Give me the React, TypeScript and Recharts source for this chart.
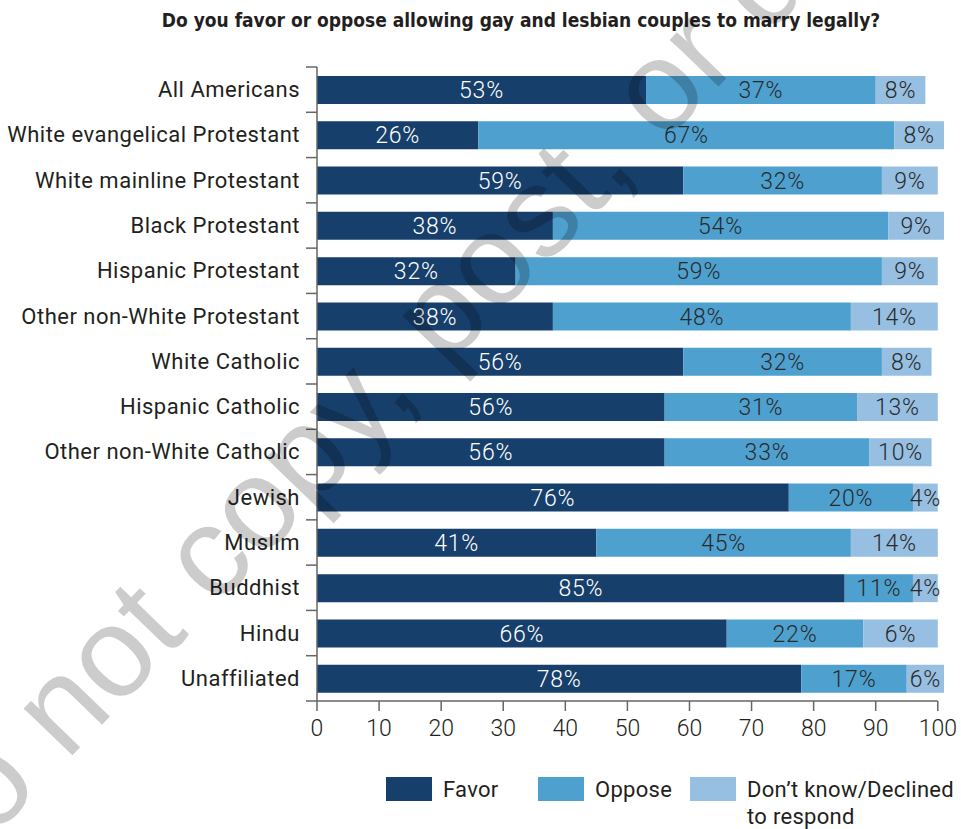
import React from 'react';
import { BarChart, Bar, XAxis, YAxis, LabelList, ReferenceLine } from 'recharts';

const categories = [
  'All Americans',
  'White evangelical Protestant',
  'White mainline Protestant',
  'Black Protestant',
  'Hispanic Protestant',
  'Other non-White Protestant',
  'White Catholic',
  'Hispanic Catholic',
  'Other non-White Catholic',
  'Jewish',
  'Muslim',
  'Buddhist',
  'Hindu',
  'Unaffiliated',
];

// bar lengths as drawn in the picture
const favor = [53, 26, 59, 38, 32, 38, 59, 56, 56, 76, 45, 85, 66, 78];
const oppose = [37, 67, 32, 54, 59, 48, 32, 31, 33, 20, 41, 11, 22, 17];
const dontKnow = [8, 8, 9, 9, 9, 14, 8, 13, 10, 4, 14, 4, 12, 6];

// percentages printed on the bars
const favorText = [53, 26, 59, 38, 32, 38, 56, 56, 56, 76, 41, 85, 66, 78];
const opposeText = [37, 67, 32, 54, 59, 48, 32, 31, 33, 20, 45, 11, 22, 17];
const dontKnowText = [8, 8, 9, 9, 9, 14, 8, 13, 10, 4, 14, 4, 6, 6];

const xTicks = [0, 10, 20, 30, 40, 50, 60, 70, 80, 90, 100];

const legendItems = [
  { name: ['Favor'], color: '#173f6b' },
  { name: ['Oppose'], color: '#4ea1cf' },
  { name: ['Don\u2019t know/Declined', 'to respond'], color: '#96bfe1' },
];

const title = 'Do you favor or oppose allowing gay and lesbian couples to marry legally?';
const watermark = 'Do not copy, post, or distribute';

const data = categories.map((name, i) => ({
  name,
  favor: favor[i],
  oppose: oppose[i],
  dontKnow: dontKnow[i],
  favorText: favorText[i],
  opposeText: opposeText[i],
  dontKnowText: dontKnowText[i],
}));

const FONT = 'Roboto, "Open Sans", sans-serif';
const TEXT = '#231f20';
const AXIS = '#666666';

const W = 961;
const H = 829;
const M = { top: 67, right: 17, left: 0, bottom: 88 };
const X_AXIS_H = 40;
const BAND = (H - M.top - M.bottom - X_AXIS_H) / categories.length;
const Y_MARGIN = 17;

const YTick = (props: any) => {
  const { x, y, payload, index } = props;
  const axisX = x + Y_MARGIN;
  const top = y - BAND / 2;
  return (
    <g>
      <text
        x={x}
        y={y}
        textAnchor="end"
        dominantBaseline="central"
        fontFamily={FONT}
        fontSize={22}
        letterSpacing={0.5}
        fill={TEXT}
      >
        {payload.value}
      </text>
      <line x1={axisX - 11} x2={axisX} y1={top} y2={top} stroke={AXIS} strokeWidth={1.5} />
      {index === categories.length - 1 && (
        <line x1={axisX - 11} x2={axisX} y1={y + BAND / 2} y2={y + BAND / 2} stroke={AXIS} strokeWidth={1.5} />
      )}
    </g>
  );
};

const pct = (v: any) => `${v}%`;

const labelStyle = { fontFamily: FONT, fontSize: 23, fontWeight: 300, letterSpacing: 0.8 };

export default function App() {
  return (
    <div style={{ position: 'absolute', left: 0, top: 0, width: W, height: H, background: '#fff', overflow: 'hidden' }}>
      <div
        style={{
          position: 'absolute',
          left: 521,
          top: 7,
          transform: 'translateX(-50%)',
          whiteSpace: 'nowrap',
          fontFamily: '"Liberation Sans Narrow", "DejaVu Sans Condensed", sans-serif',
          fontWeight: 'bold',
          fontSize: 19,
          lineHeight: '26px',
          color: TEXT,
        }}
      >
        {title}
      </div>

      <BarChart width={W} height={H} data={data} layout="vertical" margin={M} barSize={28}>
        <XAxis
          type="number"
          domain={[0, 100]}
          ticks={xTicks}
          interval={0}
          height={X_AXIS_H}
          axisLine={false}
          tickSize={10}
          tickMargin={9}
          tickLine={{ stroke: AXIS, strokeWidth: 1.5 }}
          tick={{ fontFamily: FONT, fontSize: 23, fill: TEXT, fontWeight: 300 }}
        />
        <YAxis
          type="category"
          dataKey="name"
          width={317}
          interval={0}
          tickLine={false}
          tickSize={0}
          tickMargin={Y_MARGIN}
          axisLine={{ stroke: AXIS, strokeWidth: 1.5 }}
          tick={<YTick />}
        />
        <Bar dataKey="favor" stackId="a" fill="#173f6b" isAnimationActive={false}>
          <LabelList dataKey="favorText" position="center" formatter={pct} fill="#ffffff" {...labelStyle} />
        </Bar>
        <Bar dataKey="oppose" stackId="a" fill="#4ea1cf" isAnimationActive={false}>
          <LabelList dataKey="opposeText" position="center" formatter={pct} fill="#2a2a2a" {...labelStyle} />
        </Bar>
        <Bar dataKey="dontKnow" stackId="a" fill="#96bfe1" isAnimationActive={false}>
          <LabelList dataKey="dontKnowText" position="center" formatter={pct} fill="#2a2a2a" {...labelStyle} />
        </Bar>
        <ReferenceLine
          segment={[
            { x: 0, y: categories[categories.length - 1] },
            { x: 100, y: categories[categories.length - 1] },
          ]}
          position="end"
          stroke={AXIS}
          strokeWidth={1.5}
        />
      </BarChart>

      {legendItems.map((item, i) => (
        <div key={item.name[0]} style={{ position: 'absolute', left: 386 + i * 152, top: 777 }}>
          <div style={{ position: 'absolute', left: 0, top: 0, width: 46, height: 24, background: item.color }} />
          <div
            style={{
              position: 'absolute',
              left: 57,
              top: -1,
              whiteSpace: 'nowrap',
              fontFamily: FONT,
              fontSize: 22,
              letterSpacing: 0.3,
              lineHeight: '27px',
              color: TEXT,
            }}
          >
            {item.name.map((line) => (
              <div key={line}>{line}</div>
            ))}
          </div>
        </div>
      ))}

      {/* publisher watermark laid over the whole figure */}
      <svg width={W} height={H} style={{ position: 'absolute', left: 0, top: 0, pointerEvents: 'none' }}>
        <text
          x={-72}
          y={905}
          transform="rotate(-46 -72 905)"
          fontFamily='"Liberation Sans", Arial, sans-serif'
          fontSize={128}
          fill="#000"
          fillOpacity={0.2}
        >
          {watermark}
        </text>
      </svg>
    </div>
  );
}
